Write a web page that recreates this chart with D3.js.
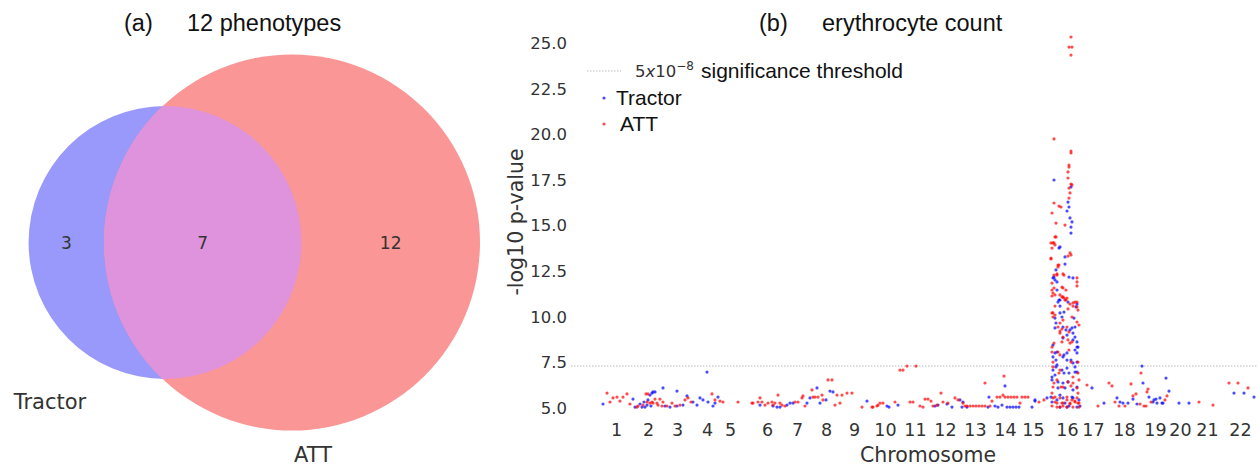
<!DOCTYPE html>
<html>
<head>
<meta charset="utf-8">
<script src="https://cdn.jsdelivr.net/npm/d3@7"></script>
<style>
  body { margin: 0; background: #fff; }
  svg { display: block; }
</style>
</head>
<body>
<script>
// (a) venn counts
const vennNames = ["Tractor", "ATT"];
const tractorOnly = 3;
const bothSets = 7;
const attOnly = 12;

// (b) manhattan plot, positions are cumulative plot units, values -log10 p
const chromLabels = ["1","2","3","4","5","6","7","8","9","10","11","12","13","14","15","16","17","18","19","20","21","22"];
const chromTicks = [31, 63, 92, 122, 145, 182, 212, 241, 269, 300, 330, 360, 390, 420, 448, 482, 508, 539, 570, 595, 622, 655];
const yTicks = [5, 7.5, 10, 12.5, 15, 17.5, 20, 22.5, 25];
const threshold = -Math.log10(5e-8);

const tractorPts = [
  [18,5.22],[48,5.49],[50,5.05],[55,5.22],[57,5.05],[60,5.05],[62,5.16],[63,5.44],[65,5.71],[67,5.82],
  [68,5.88],[70,5.88],[78,6.10],[92,5.93],[102,5.66],[108,5.33],[112,5.16],[115,5.55],[118,5.44],[122,6.97],
  [123,5.33],[128,5.11],[130,5.27],[133,5.60],[92,5.11],[85,5.05],[80,5.11],[98,5.16],[59,5.33],[66,5.11],
  [175,5.16],[188,5.11],[192,5.05],[195,5.05],[202,5.16],[205,5.27],[208,5.27],[222,5.27],[225,5.55],[232,6.10],
  [235,5.27],[241,5.44],[245,5.93],[248,5.88],[282,5.38],[302,5.11],[304,5.05],[313,5.16],[350,5.11],[353,5.16],
  [362,5.22],[367,5.05],[375,5.44],[378,5.33],[377,5.05],[382,5.05],[403,5.05],[404,5.60],[410,5.11],[413,5.05],
  [417,5.16],[420,6.21],[422,5.05],[425,5.05],[428,5.05],[431,5.05],[434,5.05],[447,5.05],[450,5.38],[462,5.55],
  [469,17.50],[486,17.12],[483,16.29],[484,16.02],[482,15.80],[485,15.42],[487,15.20],[486,14.92],[486,14.59],[474,13.77],
  [480,13.28],[471,12.57],[468,12.13],[470,12.02],[484,12.18],[488,12.13],[472,11.91],[472,11.47],[475,10.92],[473,10.81],
  [475,10.59],[492,10.70],[475,10.21],[477,9.99],[479,10.26],[489,9.93],[471,9.66],[470,9.39],[478,9.44],[481,9.28],
  [482,9.00],[487,9.39],[490,9.44],[478,8.84],[488,8.73],[492,8.34],[490,8.18],[492,8.02],[470,8.02],[468,7.80],
  [471,7.63],[478,7.80],[482,8.02],[486,7.63],[488,7.47],[490,7.25],[472,7.36],[468,7.08],[470,6.81],[477,7.08],
  [482,7.19],[484,6.92],[492,6.97],[507,6.10],[467,6.54],[473,6.43],[478,6.37],[480,6.10],[488,5.99],[466,5.60],
  [472,5.44],[478,5.55],[488,5.55],[492,5.05],[475,5.05],[484,5.11],[495,5.11],[450,5.44],
  [475,13.83],[480,12.89],[469,12.18],[474,10.92],[483,10.81],[491,10.54],[470,9.93],[485,9.28],[488,9.11],[490,8.89],
  [492,8.62],[493,8.34],[468,8.45],[472,8.07],[479,7.91],[482,7.63],[492,7.52],[471,7.25],[479,6.92],[490,6.97],
  [467,6.70],[483,6.43],[473,6.10],[492,6.15],[475,5.71],[487,5.60],[467,5.33],[480,5.27],[482,5.05],[494,5.44],
  [519,5.27],[532,5.55],[535,5.33],[538,5.27],[543,5.27],[548,5.49],[552,5.22],[557,7.30],[558,6.37],[564,5.60],
  [568,5.33],[569,5.44],[571,5.49],[572,5.27],[575,5.55],[577,5.27],[578,5.27],[581,6.64],[584,5.93],[594,5.27],
  [604,5.27],[649,5.82],[659,5.82],[669,5.60]
];

const attPts = [
  [22,5.82],[25,5.33],[28,5.55],[32,5.60],[35,5.38],[38,5.60],[42,5.77],[45,5.22],[52,5.05],[53,5.11],
  [58,5.16],[62,5.33],[63,5.77],[65,5.27],[67,5.33],[68,5.27],[70,5.49],[72,5.27],[73,5.16],[75,5.49],
  [77,5.11],[78,5.33],[82,5.11],[87,5.27],[90,5.11],[95,5.16],[100,5.44],[103,5.55],[106,5.33],[127,5.77],
  [130,5.44],[135,5.38],[138,5.33],[153,5.33],[61,5.77],
  [167,5.27],[168,5.27],[173,5.33],[175,5.55],[177,5.33],[180,5.16],[183,5.27],[187,5.33],[188,5.16],[190,5.27],
  [193,5.71],[195,5.27],[197,5.16],[200,5.11],[210,5.33],[213,5.33],[217,5.55],[218,5.66],[227,5.99],[230,5.60],
  [233,5.60],[220,5.11],[228,5.60],[237,5.71],[238,5.44],[243,6.54],[247,6.54],[250,5.16],[252,5.71],[255,5.27],
  [257,5.71],[262,5.82],[267,5.82],[277,5.05],[287,5.05],[288,5.05],[292,5.11],[293,5.16],[295,5.27],[298,5.27],
  [310,5.33],[315,7.08],[318,7.08],[322,7.30],[325,5.33],[328,5.33],[331,7.30],[335,5.11],[338,5.05],[340,5.49],
  [343,5.49],[346,5.38],[348,5.11],[352,5.16],[356,5.82],[358,5.33],[363,5.27],[370,5.55],[373,5.44],[378,5.27],
  [380,5.11],[382,5.11],[385,5.11],[388,5.11],[391,5.11],[394,5.11],[397,5.11],[400,5.11],[400,6.37],[405,5.11],
  [407,5.38],[412,5.60],[415,5.60],[418,5.71],[419,6.75],[420,5.60],[423,5.60],[426,5.60],[429,5.60],[432,5.60],
  [435,5.27],[437,5.60],[440,5.60],[443,5.60],[454,5.33],[459,5.44],
  [486,25.34],[484,24.79],[487,24.79],[486,24.35],[469,19.75],[486,19.09],[486,18.98],[484,18.32],[484,18.21],[483,17.94],
  [483,17.61],[486,17.28],[484,17.06],[487,17.23],[485,16.79],[484,16.51],[469,16.24],[474,16.07],[476,16.02],[467,15.69],
  [471,15.14],[480,15.03],[470,14.38],[468,14.05],[470,13.94],[467,13.77],[485,13.50],[483,13.33],[466,13.17],[473,12.84],
  [473,12.73],[469,12.29],[472,12.35],[478,12.35],[479,12.29],[492,12.13],[492,11.91],[467,11.85],[477,11.63],[478,11.58],
  [481,11.47],[492,11.69],[468,11.30],[467,11.14],[475,11.20],[478,11.09],[480,10.92],[482,11.03],[470,10.59],[485,10.70],
  [488,10.59],[490,10.81],[492,10.54],[468,10.21],[468,9.99],[470,10.10],[478,9.82],[483,10.43],[487,9.99],[492,9.71],
  [473,9.44],[475,9.22],[477,9.33],[475,9.11],[484,9.17],[494,9.55],[483,8.73],[485,8.56],[487,8.62],[467,8.34],
  [469,8.56],[473,8.07],[475,7.91],[484,8.18],[493,7.52],[468,7.25],[474,6.92],[488,6.70],[494,6.54],[469,6.37],
  [476,6.15],[483,6.43],[486,6.21],[492,6.10],[493,5.82],[502,6.26],[467,5.82],[468,5.55],[470,5.33],[475,5.55],
  [478,5.27],[482,5.44],[485,5.27],[487,5.44],[490,5.38],[493,5.27],[467,5.11],[472,5.05],[478,5.11],[482,5.05],
  [488,5.05],[494,5.05],
  [466,14.05],[469,14.05],[471,14.38],[466,13.22],[486,13.39],[474,12.84],[472,12.29],[469,11.58],[467,11.47],[470,11.20],
  [477,11.09],[479,11.03],[481,10.92],[488,10.76],[492,10.81],[493,10.37],[467,10.21],[475,9.66],[482,9.44],[478,8.89],
  [477,8.62],[467,8.07],[486,7.52],[468,7.52],[475,7.08],[493,6.92],[472,6.54],[488,6.37],[468,6.15],[478,6.15],
  [470,5.60],[482,5.60],[492,5.55],[472,5.27],[477,5.27],[485,5.22],[490,5.33],[494,5.27],[475,5.05],
  [513,5.11],[524,6.37],[527,6.21],[530,5.33],[534,5.11],[540,5.11],[546,6.32],[548,5.66],[551,5.77],[555,5.22],
  [556,6.92],[559,5.11],[561,5.11],[562,5.88],[563,6.04],[566,5.33],[580,5.44],[582,5.66],[614,5.33],[628,5.16],
  [644,6.37],[653,6.37],[663,6.10]
];

const svg = d3.select("body")
  .append("svg")
    .attr("width", 1260)
    .attr("height", 468)
;

// ---------- (a) venn ----------
const venn = svg.append("g");

// radius from set size (area proportional)
const rScale = d3.scaleSqrt().domain([0, tractorOnly + bothSets + attOnly]).range([0, 188 * Math.sqrt((tractorOnly + bothSets + attOnly) / (bothSets + attOnly))]);
const rT = rScale(tractorOnly + bothSets);
const rA = rScale(attOnly + bothSets);

function lens(d, r1, r2){
  let a = r1*r1*Math.acos((d*d + r1*r1 - r2*r2) / (2*d*r1));
  let b = r2*r2*Math.acos((d*d + r2*r2 - r1*r1) / (2*d*r2));
  let c = 0.5*Math.sqrt((-d+r1+r2)*(d+r1-r2)*(d-r1+r2)*(d+r1+r2));
  return a + b - c;
}
// find centre distance so the overlap area matches the shared count
let target = Math.PI * rA * rA * bothSets / (bothSets + attOnly);
let lo = rA - rT + 0.01, hi = rA + rT - 0.01;
for (let i = 0; i < 60; i++){
  let mid = (lo + hi) / 2;
  if (lens(mid, rT, rA) > target) lo = mid; else hi = mid;
}
const dist = (lo + hi) / 2;

const cy = 242.5;
const cxA = 292;
const cxT = cxA - dist;

const circles = [
  {name: vennNames[0], cx: cxT, r: rT, fill: "#9999fb"},
  {name: vennNames[1], cx: cxA, r: rA, fill: "#fa9696"}
];

venn.selectAll("circle.set").data(circles)
  .enter()
    .append("circle")
    .attr("class", "set")
    .attr("cx", d => d.cx)
    .attr("cy", cy)
    .attr("r", d => d.r)
    .attr("fill", d => d.fill)
;

svg.append("clipPath").attr("id", "clipT")
  .append("circle").attr("cx", cxT).attr("cy", cy).attr("r", rT);

venn.append("circle")
  .attr("cx", cxA).attr("cy", cy).attr("r", rA)
  .attr("fill", "#df93dc")
  .attr("clip-path", "url(#clipT)")
;

// region labels
const leftT = cxT - rT, rightT = cxT + rT, leftA = cxA - rA, rightA = cxA + rA;
const regionLabels = [
  {text: tractorOnly, x: (leftT + leftA) / 2},
  {text: bothSets, x: (leftA + rightT) / 2},
  {text: attOnly, x: (rightT + rightA) / 2}
];
venn.selectAll("text.count").data(regionLabels)
  .enter()
    .append("text")
    .attr("class", "count")
    .attr("x", d => d.x)
    .attr("y", cy + 6)
    .attr("text-anchor", "middle")
    .attr("font-family", "DejaVu Sans")
    .attr("font-size", 17)
    .attr("fill", "#333")
    .text(d => d.text)
;

venn.append("text")
  .attr("x", cxT - 115).attr("y", 409)
  .attr("text-anchor", "middle")
  .attr("font-family", "DejaVu Sans").attr("font-size", 21).attr("fill", "#333")
  .text(vennNames[0]);
venn.append("text")
  .attr("x", cxA + 21).attr("y", 462)
  .attr("text-anchor", "middle")
  .attr("font-family", "DejaVu Sans").attr("font-size", 21).attr("fill", "#333")
  .text(vennNames[1]);

venn.append("text")
  .attr("x", 124).attr("y", 31)
  .attr("font-family", "Liberation Sans").attr("font-size", 23.5).attr("fill", "#111")
  .text("(a)");
venn.append("text")
  .attr("x", 187).attr("y", 31)
  .attr("font-family", "Liberation Sans").attr("font-size", 23.5).attr("fill", "#111")
  .text("12 phenotypes");

// ---------- (b) manhattan ----------
const x = d3.scaleLinear().domain([-14, 673]).range([571, 1258]);
const y = d3.scaleLinear().domain([5, 25]).range([408, 43.2]);

const yAxis = d3.axisLeft(y).tickValues(yTicks).tickFormat(d3.format(".1f")).tickSize(0).tickPadding(0);
svg.append("g")
  .attr("transform", "translate(567,0)")
  .call(yAxis)
  .call(g => g.select(".domain").remove())
  .call(g => g.selectAll("text")
    .attr("font-family", "DejaVu Sans").attr("font-size", 16.5).attr("fill", "#333"))
;

const xAxis = d3.axisBottom(x).tickValues(chromTicks).tickFormat((d, i) => chromLabels[i]).tickSize(0).tickPadding(0);
svg.append("g")
  .attr("transform", "translate(0,424)")
  .call(xAxis)
  .call(g => g.select(".domain").remove())
  .call(g => g.selectAll("text")
    .attr("font-family", "DejaVu Sans").attr("font-size", 17.5).attr("fill", "#333"))
;

// threshold
svg.append("line")
  .attr("x1", x(-14)).attr("x2", x(673))
  .attr("y1", y(threshold)).attr("y2", y(threshold))
  .attr("stroke", "#bbb").attr("stroke-width", 1).attr("stroke-dasharray", "1.5,1.5")
;

svg.selectAll("circle.tractor").data(tractorPts)
  .enter()
    .append("circle")
    .attr("class", "tractor")
    .attr("cx", d => x(d[0]))
    .attr("cy", d => y(d[1]))
    .attr("r", 1.6)
    .attr("fill", "#0000ff")
    .attr("opacity", 0.7)
;
svg.selectAll("circle.att").data(attPts)
  .enter()
    .append("circle")
    .attr("class", "att")
    .attr("cx", d => x(d[0]))
    .attr("cy", d => y(d[1]))
    .attr("r", 1.6)
    .attr("fill", "#ff0000")
    .attr("opacity", 0.7)
;

// labels
svg.append("text")
  .attr("transform", "translate(523,222) rotate(-90)")
  .attr("text-anchor", "middle")
  .attr("font-family", "DejaVu Sans").attr("font-size", 20.5).attr("fill", "#333")
  .text("-log10 p-value");
svg.append("text")
  .attr("x", 928).attr("y", 462)
  .attr("text-anchor", "middle")
  .attr("font-family", "DejaVu Sans").attr("font-size", 20.5).attr("fill", "#333")
  .text("Chromosome");

svg.append("text")
  .attr("x", 759).attr("y", 31)
  .attr("font-family", "Liberation Sans").attr("font-size", 23.5).attr("fill", "#111")
  .text("(b)");
svg.append("text")
  .attr("x", 822).attr("y", 31)
  .attr("font-family", "Liberation Sans").attr("font-size", 23.5).attr("fill", "#111")
  .text("erythrocyte count");

// legend
const lg = svg.append("g");
lg.append("line")
  .attr("x1", 587).attr("x2", 621).attr("y1", 71).attr("y2", 71)
  .attr("stroke", "#bbb").attr("stroke-width", 1).attr("stroke-dasharray", "1.5,1.5");
let thr = lg.append("text").attr("x", 635).attr("y", 77)
  .attr("font-family", "DejaVu Sans").attr("font-size", 16.5).attr("fill", "#333");
thr.append("tspan").text("5");
thr.append("tspan").attr("font-style", "italic").text("x");
thr.append("tspan").text("10");
thr.append("tspan").attr("dy", -7).attr("font-size", 12).text("\u22128");
lg.append("text").attr("x", 701).attr("y", 78)
  .attr("font-family", "Liberation Sans").attr("font-size", 21).attr("fill", "#111")
  .text("significance threshold");

const legendItems = [
  {label: vennNames[0], color: "#0000ff", y: 98, tx: 616},
  {label: vennNames[1], color: "#ff0000", y: 124, tx: 620}
];
lg.selectAll("circle").data(legendItems)
  .enter()
    .append("circle")
    .attr("cx", 604).attr("cy", d => d.y).attr("r", 1.6)
    .attr("fill", d => d.color).attr("opacity", 0.7)
;
lg.selectAll("text.item").data(legendItems)
  .enter()
    .append("text")
    .attr("class", "item")
    .attr("x", d => d.tx).attr("y", d => d.y + 7)
    .attr("font-family", "Liberation Sans").attr("font-size", 21).attr("fill", "#111")
    .text(d => d.label)
;
</script>
</body>
</html>
